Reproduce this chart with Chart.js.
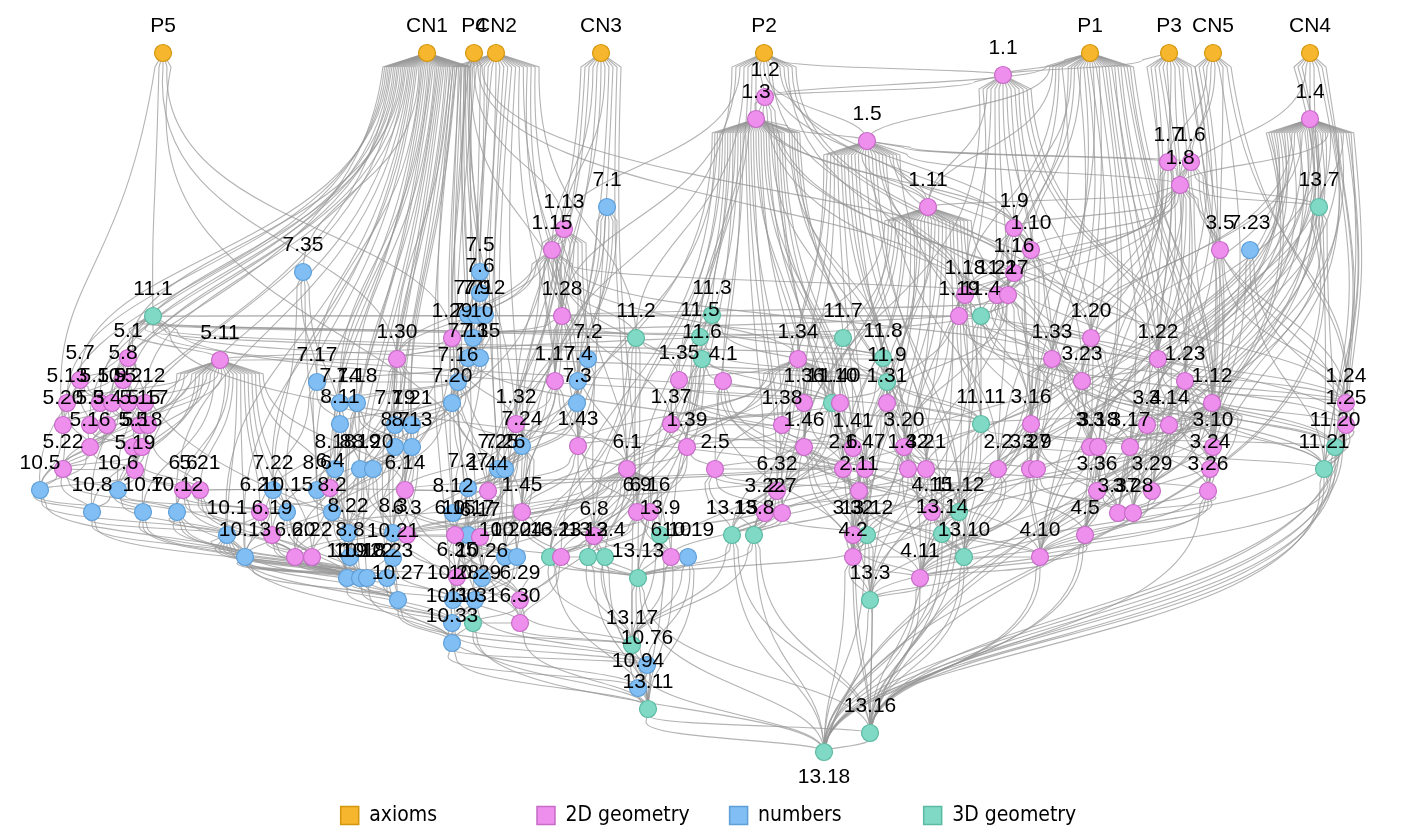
<!DOCTYPE html>
<html>
<head>
<meta charset="utf-8">
<script src="https://cdn.jsdelivr.net/npm/chart.js@4.4.1/dist/chart.umd.min.js"></script>
<style>
  html, body { margin: 0; padding: 0; background: #fff; }
  #wrap { width: 1417px; height: 836px; position: relative; }
</style>
</head>
<body>
<div id="wrap"><canvas id="graph"></canvas></div>
<script>
// --- nodes: [label, x, y] in layout units ---
const axiomNodes = [
  ["P5", 163, 53], ["CN1", 427, 53], ["P4", 474, 53], ["CN2", 496, 53], ["CN3", 601, 53],
  ["P2", 764, 53], ["P1", 1090, 53], ["P3", 1169, 53], ["CN5", 1213, 53], ["CN4", 1310, 53],
];

const planeNodes = [
  ["1.1", 1003, 75], ["1.2", 765, 97], ["1.3", 756, 119], ["1.4", 1310, 119], ["1.5", 867, 141],
  ["1.7", 1168, 162], ["1.6", 1191, 162], ["1.8", 1180, 185], ["1.11", 928, 207], ["1.13", 564, 229],
  ["1.9", 1014, 228], ["1.15", 552, 250], ["1.10", 1031, 250], ["3.5", 1220, 250], ["1.16", 1014, 273],
  ["1.18", 965, 295], ["1.21", 997, 295], ["1.27", 1008, 295], ["1.19", 959, 316], ["1.28", 562, 316],
  ["1.29", 452, 338], ["1.20", 1091, 338],
  ["5.1", 128, 358], ["5.11", 220, 360], ["1.30", 397, 359], ["1.34", 798, 359], ["1.33", 1052, 359], ["1.22", 1158, 359],
  ["5.7", 80, 380], ["5.8", 123, 380], ["1.17", 555, 381], ["1.35", 679, 380], ["4.1", 723, 381], ["3.23", 1082, 381], ["1.23", 1185, 381],
  ["5.13", 67, 403], ["5.10", 100, 403], ["5.9", 112, 403], ["5.2", 128, 403], ["5.12", 145, 403],
  ["1.36", 804, 403], ["1.40", 840, 403], ["1.31", 887, 403], ["1.12", 1212, 403], ["1.24", 1346, 403],
  ["5.20", 63, 425], ["5.3", 90, 425], ["5.4", 107, 425], ["5.15", 140, 425], ["5.17", 148, 425],
  ["1.32", 516, 424], ["1.37", 671, 424], ["1.38", 782, 425], ["3.16", 1031, 424], ["3.4", 1147, 425], ["3.14", 1169, 425], ["1.25", 1346, 425],
  ["5.16", 90, 447], ["5.5", 133, 447], ["5.18", 142, 447], ["1.43", 578, 446], ["1.39", 687, 447], ["1.46", 804, 447],
  ["1.41", 853, 448], ["3.20", 904, 447], ["3.3", 1090, 447], ["3.18", 1098, 447], ["3.17", 1130, 447], ["3.10", 1213, 447],
  ["5.22", 63, 469], ["5.19", 135, 470], ["6.1", 627, 469], ["2.5", 715, 469], ["2.6", 843, 469], ["1.47", 865, 469],
  ["1.42", 908, 469], ["3.21", 926, 469], ["2.2", 998, 469], ["3.27", 1030, 469], ["3.9", 1037, 469], ["3.24", 1210, 469],
  ["6.6", 183, 490], ["5.21", 200, 490], ["6.4", 330, 488], ["6.14", 405, 490], ["1.44", 488, 491], ["6.32", 777, 491],
  ["2.11", 859, 491], ["3.36", 1097, 491], ["3.29", 1152, 491], ["3.26", 1208, 491],
  ["6.21", 260, 512], ["1.45", 522, 512], ["6.9", 637, 512], ["6.16", 650, 512], ["3.22", 765, 513], ["2.7", 782, 513],
  ["4.15", 932, 512], ["3.37", 1118, 513], ["3.28", 1133, 513],
  ["6.19", 272, 535], ["6.3", 407, 535], ["6.15", 455, 535], ["6.17", 480, 537], ["6.8", 594, 536], ["3.32", 853, 535], ["4.5", 1085, 535],
  ["6.20", 295, 557], ["6.22", 312, 557], ["6.23", 561, 557], ["6.10", 671, 557], ["4.2", 853, 557], ["4.10", 1040, 557],
  ["6.25", 457, 577], ["4.11", 920, 578], ["6.29", 520, 600], ["6.30", 520, 623],
];

const numberNodes = [
  ["7.1", 607, 207], ["7.35", 303, 272], ["7.23", 1250, 250], ["7.5", 480, 272], ["7.6", 480, 293],
  ["7.7", 468, 315], ["7.9", 476, 315], ["7.12", 485, 315], ["7.10", 473, 338], ["7.13", 468, 358],
  ["7.15", 480, 358], ["7.2", 588, 359], ["7.16", 458, 382], ["7.17", 317, 382], ["7.4", 578, 381],
  ["7.20", 452, 403], ["7.14", 340, 403], ["7.18", 357, 403], ["7.3", 577, 403], ["7.19", 395, 425],
  ["7.21", 412, 425], ["8.11", 340, 424], ["8.7", 395, 447], ["8.13", 412, 447], ["7.24", 522, 446],
  ["8.18", 335, 469], ["8.19", 360, 469], ["8.20", 373, 469], ["7.25", 498, 469], ["7.26", 505, 469],
  ["10.5", 40, 490], ["10.6", 118, 490], ["7.22", 273, 490], ["8.6", 317, 490], ["7.27", 468, 488],
  ["10.8", 92, 512], ["10.7", 143, 512], ["10.12", 177, 512], ["10.15", 287, 512], ["8.2", 332, 512],
  ["8.12", 453, 513], ["10.1", 227, 535], ["8.22", 348, 533], ["8.3", 393, 533], ["10.17", 468, 535],
  ["10.13", 245, 557], ["8.8", 350, 557], ["10.21", 393, 558], ["10.20", 505, 557], ["10.24", 517, 557],
  ["10.19", 688, 557], ["10.9", 347, 578], ["10.18", 360, 578], ["10.22", 367, 578], ["10.23", 387, 578],
  ["10.26", 482, 578], ["10.27", 398, 600], ["10.28", 453, 600], ["10.29", 475, 600], ["10.30", 452, 623],
  ["10.33", 452, 643], ["10.76", 647, 665], ["10.94", 638, 688],
];

const solidNodes = [
  ["13.7", 1319, 207], ["11.1", 153, 316], ["11.4", 981, 316], ["11.3", 712, 315], ["11.2", 636, 338],
  ["11.5", 700, 337], ["11.7", 843, 338], ["11.6", 702, 359], ["11.8", 883, 358], ["11.9", 887, 382],
  ["11.10", 832, 403], ["11.11", 981, 424], ["11.20", 1335, 447], ["11.21", 1324, 469], ["11.12", 959, 512],
  ["13.14", 942, 534], ["13.12", 867, 535], ["13.15", 732, 535], ["13.8", 754, 535], ["13.9", 660, 535],
  ["13.1", 550, 557], ["13.2", 588, 557], ["13.4", 605, 557], ["13.10", 964, 557], ["13.13", 638, 578],
  ["13.3", 870, 600], ["11.31", 473, 623], ["13.17", 632, 645], ["13.11", 648, 709], ["13.16", 870, 733],
  ["13.18", 824, 752],
];

const groupNames = ["axioms", "2D geometry", "numbers", "3D geometry"];
const labelBelow = ["13.18"];

// --- edges: "source: target target ..." ---
const edgeLines = [
  "P5: 11.1 1.29 5.20 1.30 1.44",
  "CN1: 5.1 5.7 5.8 5.13 5.10 5.9 5.2 5.12 5.20 5.3 5.4 7.35 7.17 7.14 7.18 8.11 7.19 7.21 8.7 8.13 10.5 10.6 10.8 10.7 7.22 8.6 10.12 10.1 10.13 10.15 8.2 8.18 8.19 1.30 7.5 7.6 7.7 7.9 1.29 7.16 7.20 6.14 10.9 10.18 10.22 10.23 10.27 8.8 10.21 1.32",
  "P4: 1.29 1.28 1.13 1.16 1.18",
  "CN2: 7.5 7.7 7.9 7.12 7.10 7.13 7.15 7.2 7.3 7.4 1.28 7.24 7.25 7.26 8.12 10.17 10.20 10.24 10.26 10.28 10.29 11.2 1.17",
  "CN3: 1.13 1.15 1.28 1.17 1.43 6.1 1.45 7.24 6.9 6.8 1.32",
  "P2: 1.2 1.3 1.5 1.1 1.11 1.9 1.10 1.18 11.2 11.3 11.5 1.28 1.17 1.13 1.20 1.22 1.33",
  "1.1: 1.2 1.9 1.10 1.11 1.22 1.12 1.18 1.21 1.27 3.23 1.20 1.33 1.23 1.42 1.46",
  "P1: 1.1 1.2 1.5 1.11 1.9 1.10 1.16 1.18 1.21 1.27 1.20 1.33 1.22 1.23 1.12 3.4 3.14 3.17 3.10 3.24 3.36 3.29 3.26 4.5 4.10 3.27 3.9 2.2 3.16",
  "P3: 1.1 1.7 1.6 1.8 1.12 1.22 1.23 3.3 3.18 3.10 3.26 3.28 3.37 4.5",
  "CN5: 1.6 1.7 1.8 3.5 1.24 1.25 3.24 3.29 3.37 4.10",
  "CN4: 1.4 1.8 13.7 11.20 11.21 1.24 13.16 13.18 4.11",
  "1.2: 1.3 1.22 1.33 1.20 1.9 1.11",
  "1.3: 1.5 1.34 1.35 1.36 1.37 1.38 1.39 1.46 1.41 1.40 1.31 1.47 1.42 2.5 2.6 2.11 6.1 6.9 6.16 6.32 3.22 2.7 1.43 1.45 6.8 6.10 6.23 3.32 4.2 4.15 11.10 11.7 11.8 11.9 4.1",
  "1.5: 1.7 1.6 1.8 1.9 1.11 1.10 1.16 1.18 1.19 11.4 1.31 1.41 1.42 3.20 3.21 3.16 2.2 1.34 1.36 1.38 1.46 13.12 4.11 13.10 13.14 11.12",
  "1.4: 1.8 1.24 1.25 11.20 11.21 13.7 1.12 3.10 3.24 3.26 3.4 3.14 3.29 3.28 3.37 4.5 4.10 4.11 13.16 13.18 13.3 13.10 4.15 13.14 1.23 1.22 3.23 1.33 1.20 3.17 3.3 3.18 3.36 3.27 3.9",
  "1.7: 1.8 1.20 1.22 3.23 1.33",
  "1.6: 1.8 1.19 3.5 3.3 13.7 1.24 1.25",
  "1.8: 1.9 1.10 1.11 1.16 1.18 3.5 13.7 11.4 1.23 1.12 3.16 3.17",
  "1.11: 1.12 1.19 1.31 1.46 1.41 11.4 11.11 11.12 1.42 1.47 2.6 2.11 3.20 3.21 3.32 4.2 13.12 13.3 13.14 13.10 1.34 1.36 1.40 11.9 11.10",
  "1.9: 1.10 1.18 1.21 1.27 1.16 3.16 2.2 1.24",
  "1.10: 1.16 1.18 1.21 1.27 3.3 3.27 3.9",
  "1.16: 1.18 1.19 1.21 1.27 3.16 3.20 3.21 1.25",
  "1.13: 1.15 1.29 1.28 1.17 1.32 1.43 1.45 1.44 6.1 6.14 1.30 7.2",
  "1.15: 1.28 1.29 1.30 1.32 1.17 1.35 1.37 1.27 11.2 1.34 1.33",
  "1.18: 1.19 1.20 1.31 11.11 1.33 3.16",
  "1.21: 1.22 1.23 3.23 1.24",
  "1.27: 1.28 1.29 1.30 3.3 3.16 1.31 11.4 1.33",
  "1.19: 1.20 1.24 1.25 3.20 3.21 11.11",
  "1.28: 1.29 1.32 1.43 1.44 1.45 6.1 11.2",
  "1.29: 1.30 1.32 1.44 1.45 1.46 6.14 6.4 5.11",
  "1.30: 5.11 6.4 6.14 6.21 6.19 6.20 6.22",
  "5.1: 5.7 5.8 5.13 5.10 5.2 5.3 5.4",
  "5.11: 5.12 5.13 5.15 5.16 5.17 5.18 5.19 5.20 5.22 5.21 6.6 6.21 6.19 6.20 6.22 10.5 10.6 10.8 10.7 10.12 10.1 10.13 6.4 6.14",
  "5.7: 5.9 5.10 5.13 5.20 5.3",
  "5.8: 5.9 5.10 5.12 5.2 5.15",
  "5.2: 5.3 5.4 5.5 5.16 5.17 5.22",
  "5.12: 5.15 5.17 5.18 5.19",
  "5.13: 5.20 5.16",
  "5.4: 5.5 5.16 5.22",
  "5.17: 5.18 5.19 5.21",
  "5.18: 5.19 5.22",
  "5.19: 5.22 6.6 5.21 10.5 10.6",
  "5.22: 10.5 10.6 10.8 10.12",
  "5.20: 5.22 10.5",
  "5.16: 5.22 5.19 10.5",
  "5.5: 5.19 5.21 10.6",
  "5.3: 5.16 5.5",
  "5.15: 5.16 5.18 5.19",
  "5.9: 5.15 5.17 5.4",
  "5.10: 5.13 5.16 5.20",
  "7.1: 7.2 7.3 7.4 1.17 7.24 7.25",
  "7.35: 7.17 8.11 7.22 8.6",
  "7.23: 3.24 1.25 11.21",
  "7.5: 7.6 7.7 7.9 7.12",
  "7.6: 7.7 7.10 7.13",
  "7.7: 7.10 7.13 7.15 7.16",
  "7.9: 7.10 7.15 7.16 7.20",
  "7.12: 7.13 7.15 7.20 8.12",
  "7.10: 7.16 7.20",
  "7.13: 7.16 7.17 7.20",
  "7.15: 7.16 7.14 7.18 7.19",
  "7.2: 7.3 7.4 7.24 1.43",
  "7.16: 7.17 7.19 7.21 7.20 8.11 8.7 8.13",
  "7.20: 7.21 7.24 7.25 8.2 8.12 7.27",
  "7.17: 7.18 7.19 8.11 7.22 8.6",
  "7.14: 8.11 8.18 8.19",
  "7.18: 8.7 8.13 8.18 8.20",
  "7.4: 7.3 7.24 7.26",
  "7.3: 7.24 7.25 7.26 1.43",
  "7.19: 8.7 8.13 8.20 8.6 8.2",
  "7.21: 8.13 8.19 8.22 8.3",
  "8.11: 8.18 8.6 8.2 8.22",
  "8.7: 8.19 8.20 8.2 8.3 8.8",
  "8.13: 8.20 8.22 8.3 10.21",
  "7.24: 7.25 7.26 7.27 8.12 10.17 10.20 10.24",
  "8.18: 8.6 8.2 8.22 8.8",
  "8.19: 8.2 8.22 8.3 8.8",
  "8.20: 8.8 8.3 10.21",
  "7.25: 7.27 8.12 10.17",
  "7.26: 7.27 10.20 10.24 10.26",
  "10.5: 10.8 10.7 10.1 10.13",
  "10.6: 10.7 10.8 10.12 10.1 10.15",
  "7.22: 10.15 8.2 10.1 10.13",
  "8.6: 8.2 8.22 10.9",
  "7.27: 8.12 10.17 10.26 10.28",
  "10.8: 10.13 10.1 10.9",
  "10.7: 10.13 10.9 10.18",
  "10.12: 10.15 10.1 10.13 10.18 10.22",
  "10.15: 10.13 10.9 10.18",
  "8.2: 8.22 8.3 8.8 10.9",
  "8.12: 10.17 10.20 10.26",
  "10.1: 10.13 10.9 10.18 10.22 10.23 10.27 10.28 10.30 10.33",
  "8.22: 8.8 10.9 10.18",
  "8.3: 8.8 10.21 10.22 10.23",
  "10.17: 10.20 10.24 10.26 10.28 10.29",
  "10.13: 10.9 10.18 10.22 10.23 10.27",
  "8.8: 10.9 10.22 10.23 10.27",
  "10.21: 10.23 10.27 10.28",
  "10.20: 10.26 10.28 10.29",
  "10.24: 10.26 10.29 10.30",
  "10.9: 10.27 10.28 10.30",
  "10.18: 10.27 10.30",
  "10.22: 10.27 10.33",
  "10.23: 10.27 10.30 10.33",
  "10.26: 10.28 10.29 10.30",
  "10.27: 10.30 10.33 10.76",
  "10.28: 10.30 10.33",
  "10.29: 10.30 10.33 10.76",
  "10.30: 10.33 10.76 10.94",
  "10.33: 10.76 10.94 13.11",
  "10.76: 10.94 13.11 13.17",
  "10.94: 13.11",
  "6.1: 6.8 6.9 6.16 6.10 6.23 6.15 6.17 6.3 6.19 6.20 6.22 6.25 6.29 6.30 13.9 13.13 13.1 13.2",
  "1.34: 1.35 1.36 1.37 1.38 1.39 1.40 1.41 1.43 1.45 1.46 1.47 2.5 2.6 11.10 6.1 3.22 2.7 6.32",
  "1.35: 1.37 1.38 1.39 1.41 1.36",
  "1.37: 1.38 1.39 1.40 1.41 6.1 1.43",
  "1.38: 1.39 1.40 1.41 1.46",
  "1.36: 1.37 1.38 1.46 2.6",
  "1.40: 1.41 1.42 1.47",
  "1.31: 1.42 1.46 1.47 3.20 3.21 2.11 3.32 4.2",
  "1.41: 1.42 1.47 2.11 2.6 1.44 1.45 6.14",
  "1.46: 1.47 2.5 2.6 2.7 2.11 6.32 3.22 4.15 4.2 3.32 13.12 13.15 13.8",
  "1.47: 2.11 2.7 4.2 3.32 6.32 13.15",
  "2.5: 2.6 2.7 6.32 2.11 13.15 13.8",
  "2.6: 2.11 2.7 13.12 13.10",
  "2.11: 4.2 4.10 4.11 4.15 13.8 13.10 13.3",
  "4.1: 4.2 4.15 4.5 4.10",
  "3.20: 3.21 3.22 3.26 3.27 3.32 4.11",
  "3.16: 3.17 3.18 3.32 3.36 3.37 4.15 4.10",
  "3.23: 3.24 3.26 3.28",
  "1.22: 1.23 3.23 1.24 3.10 11.20",
  "1.23: 1.24 1.25 1.12 3.10 3.24 3.26 3.17 11.20 11.21 3.28 4.5",
  "1.12: 3.3 3.4 3.14 3.10 3.17 3.18 3.36 3.29 3.26 4.5 4.10 4.11 4.15 11.11 11.12 13.14",
  "1.20: 3.20 3.21 3.4 3.14 3.22 3.24 4.5 4.10",
  "1.33: 1.34 3.23 3.3 3.14 3.17 3.18 3.16 3.9 2.2 3.27 4.11 11.20 11.21 13.10 13.3",
  "3.4: 3.14 3.17 3.36 3.29 3.28",
  "3.14: 3.18 3.29 3.37 3.28",
  "3.3: 3.18 3.36 3.37 3.27",
  "3.18: 3.36 3.37 4.5 4.10",
  "3.17: 3.29 3.28 3.37 4.5",
  "3.10: 3.24 3.26 3.29",
  "3.24: 3.26 3.28 4.10",
  "3.36: 3.37 4.5 4.10 4.11",
  "3.29: 3.28 3.37 4.10",
  "3.26: 3.28 4.5 4.10 4.11 13.16",
  "3.5: 3.10 3.24 1.24",
  "1.24: 1.25 11.20 11.21 13.16 13.18",
  "1.25: 11.20 11.21 13.18 4.11 13.16",
  "11.20: 11.21 13.16 13.18",
  "11.21: 13.16 13.18 13.3",
  "13.7: 11.20 13.16 13.18 11.21 13.10",
  "3.27: 3.28 4.10 4.11",
  "3.9: 3.37 4.11 13.10",
  "2.2: 2.6 2.11 4.2 13.10 13.3",
  "3.21: 3.22 3.32 4.15 4.2",
  "1.42: 2.11 4.15 4.2 13.12 13.14",
  "4.15: 4.2 4.11 4.10 13.14 13.10 13.16",
  "3.32: 4.2 4.11 13.3 13.16",
  "4.2: 4.11 13.3 13.16 13.18 4.10",
  "4.5: 4.10 4.11 13.16 13.18",
  "4.10: 4.11 13.16 13.18",
  "4.11: 13.16 13.18 13.3",
  "13.14: 13.10 13.16 13.18",
  "13.10: 13.16 13.18 13.3",
  "11.12: 13.14 13.10 13.16 13.18",
  "13.12: 13.3 13.16 13.18 13.13",
  "13.3: 13.16 13.18",
  "13.16: 13.18",
  "11.1: 11.2 11.3 11.4 11.5 11.6 11.7 11.8 11.9 11.10 11.11 11.12 11.31 5.11",
  "11.3: 11.5 11.6 11.7 11.8 11.9 13.1 13.13 11.4",
  "11.2: 11.6 11.31 13.1 13.13 13.17",
  "11.5: 11.6 11.7 11.9 11.10 13.2",
  "11.6: 11.9 11.10 13.1 13.2 13.4 13.9",
  "11.7: 11.8 11.9 11.10 11.11 13.12 13.15",
  "11.8: 11.9 11.11 11.12 13.8",
  "11.9: 11.10 11.11 11.12 13.14 13.10",
  "11.10: 11.11 13.12 13.15 13.8 13.13",
  "11.4: 11.11 11.12 11.20 11.21 13.3",
  "11.11: 11.12 11.20 11.21 13.14 13.10",
  "13.15: 13.13 13.17 13.16 13.18",
  "13.8: 13.13 13.17 13.16 13.18",
  "13.9: 13.13 13.17 13.11",
  "13.1: 13.13 13.17 13.11 13.2",
  "13.2: 13.4 13.13 13.17 13.11",
  "13.4: 13.13 13.17 13.11",
  "13.13: 13.17 13.11 13.16 13.18",
  "13.17: 13.11 13.18",
  "11.31: 13.17 13.11 13.18",
  "13.11: 13.16 13.18",
  "6.9: 6.10 6.23 6.8 13.9 13.1",
  "6.16: 6.10 6.17 13.9 13.2",
  "6.8: 6.23 13.1 13.2 13.4 13.13 13.11 10.19",
  "6.32: 6.10 13.15 13.8 13.9",
  "3.22: 13.15 13.8",
  "2.7: 13.15 13.8 13.12",
  "1.43: 1.44 1.45 6.1 6.8 6.9",
  "1.44: 1.45 6.14 6.3 6.15 6.17 6.4",
  "1.45: 6.3 6.15 6.17 6.8 6.23 13.1",
  "1.32: 1.44 1.45 6.14 6.3 6.15 6.17 6.25",
  "1.17: 1.32 1.43 1.44 7.24 6.1",
  "1.39: 1.41 2.5 6.1 6.9 6.16",
  "6.14: 6.15 6.17 6.3 6.25 6.29",
  "6.4: 6.19 6.20 6.22 6.3 6.6 5.21 6.21",
  "6.6: 6.21 6.19 6.20 10.13",
  "5.21: 6.21 6.19 6.20 6.22",
  "6.21: 6.19 6.20 6.22 10.13",
  "6.19: 6.20 6.22 10.9 10.18",
  "6.20: 6.22 10.9",
  "6.22: 10.9 10.18 10.22 6.25",
  "6.3: 6.15 6.17 6.25 10.21",
  "6.15: 6.25 6.29 6.30 10.28",
  "6.17: 6.25 6.29 6.30 6.23",
  "6.25: 6.29 6.30 10.30 11.31",
  "6.29: 6.30 11.31 13.17",
  "6.30: 11.31 13.17 13.11",
  "6.23: 6.29 6.30 13.1 13.13",
  "6.10: 10.19 13.13 13.11 13.17",
  "10.19: 13.13 13.11 13.17 10.76",
];

// --- styling ---
const FILL = ["#F6B62E", "#EE8FEE", "#80BEF4", "#80D9C5"];
const EDGE = ["#D3970F", "#C66BC6", "#5E9FD8", "#5BBAA3"];
const LABEL_FONT = '21px "Liberation Sans", Arial, sans-serif';
const LEGEND_FAMILY = "'Liberation Sans Narrow', 'DejaVu Sans Condensed', Lato, sans-serif";
const LEGEND_SIZE = 21;
const LEGEND_PAD = 10;
const LEGEND_STRIDE = 196;

const nodeGroups = [axiomNodes, planeNodes, numberNodes, solidNodes];

const position = {};
nodeGroups.forEach((g) => g.forEach((n) => { position[n[0]] = { x: n[1], y: n[2] }; }));

const outEdges = edgeLines.map((line) => {
  const parts = line.split(":");
  return { from: parts[0].trim(), to: parts[1].trim().split(/\s+/).filter((t) => position[t]) };
});

function toPoint(n) {
  return { x: n[1], y: n[2], name: n[0] };
}

const edgePlugin = {
  id: "edges",
  beforeDatasetsDraw(chart) {
    const ctx = chart.ctx;
    const sx = chart.scales.x;
    const sy = chart.scales.y;
    const midX = (chart.chartArea.left + chart.chartArea.right) / 2;
    ctx.save();
    ctx.strokeStyle = "rgba(150,150,150,0.72)";
    ctx.lineWidth = 1.1;
    outEdges.forEach((e) => {
      const src = position[e.from];
      if (!src) return;
      const x1 = sx.getPixelForValue(src.x);
      const y1 = sy.getPixelForValue(src.y);
      const targets = e.to.slice().sort((a, b) => position[a].x - position[b].x);
      const n = targets.length;
      const step = n > 1 ? Math.min(4, 90 / n) : 0;
      targets.forEach((t, i) => {
        const x2 = sx.getPixelForValue(position[t].x);
        const y2 = sy.getPixelForValue(position[t].y);
        const off = (i - (n - 1) / 2) * step;
        const dy = y2 - y1;
        const ax = x1 + off;
        const ay = y1 + Math.min(14, Math.abs(dy) * 0.3);
        // long edges swing outward, like the routed lanes at the sides
        const bulge = ((ax - midX) / midX) * Math.max(0, dy - 250) * 0.35;
        ctx.beginPath();
        ctx.moveTo(x1, y1);
        ctx.lineTo(ax, ay);
        ctx.bezierCurveTo(ax + bulge, ay + (y2 - ay) * 0.6, x2 + bulge * 0.5, y2 - (y2 - ay) * 0.4, x2, y2);
        ctx.stroke();
      });
    });
    ctx.restore();
  },
};

const labelPlugin = {
  id: "nodeLabels",
  afterDatasetsDraw(chart) {
    const ctx = chart.ctx;
    ctx.save();
    ctx.font = LABEL_FONT;
    ctx.fillStyle = "#000";
    ctx.textAlign = "center";
    ctx.textBaseline = "middle";
    chart.data.datasets.forEach((ds, di) => {
      const meta = chart.getDatasetMeta(di);
      meta.data.forEach((pt, i) => {
        const name = ds.data[i].name;
        const dy = labelBelow.includes(name) ? 25 : -27;
        ctx.fillText(name, pt.x, pt.y + dy);
      });
    });
    ctx.restore();
  },
};

// pad legend texts with spaces so the items sit on an even stride
const measureCtx = document.createElement("canvas").getContext("2d");
measureCtx.font = LEGEND_SIZE + "px " + LEGEND_FAMILY;
const legendTextWidth = LEGEND_STRIDE - 18 - LEGEND_SIZE / 2 - LEGEND_PAD;
function legendText(name, isLast) {
  if (isLast) return name;
  let s = name;
  while (measureCtx.measureText(s + " ").width <= legendTextWidth + 2) s += " ";
  return s;
}

const ctx = document.getElementById("graph").getContext("2d");
new Chart(ctx, {
  type: "scatter",
  data: {
    datasets: nodeGroups.map((g, i) => ({
      label: groupNames[i],
      data: g.map(toPoint),
      backgroundColor: FILL[i],
      borderColor: EDGE[i],
      borderWidth: 1.2,
      pointRadius: 8.5,
      pointHoverRadius: 8.5,
      clip: false,
    })),
  },
  options: {
    responsive: true,
    maintainAspectRatio: false,
    animation: false,
    layout: { padding: 0, autoPadding: false },
    scales: {
      x: { type: "linear", min: 0, max: 1417, display: false },
      y: { type: "linear", min: 0, max: 795, reverse: true, display: false },
    },
    plugins: {
      legend: {
        position: "bottom",
        labels: {
          boxWidth: 18,
          boxHeight: 18,
          padding: LEGEND_PAD,
          color: "#333",
          font: { family: LEGEND_FAMILY, size: LEGEND_SIZE },
          generateLabels(chart) {
            const n = chart.data.datasets.length;
            return chart.data.datasets.map((ds, i) => ({
              text: legendText(ds.label, i === n - 1),
              fillStyle: FILL[i],
              strokeStyle: EDGE[i],
              lineWidth: 1.5,
              datasetIndex: i,
              hidden: false,
            }));
          },
        },
      },
      tooltip: { enabled: false },
    },
  },
  plugins: [edgePlugin, labelPlugin],
});
</script>
</body>
</html>
